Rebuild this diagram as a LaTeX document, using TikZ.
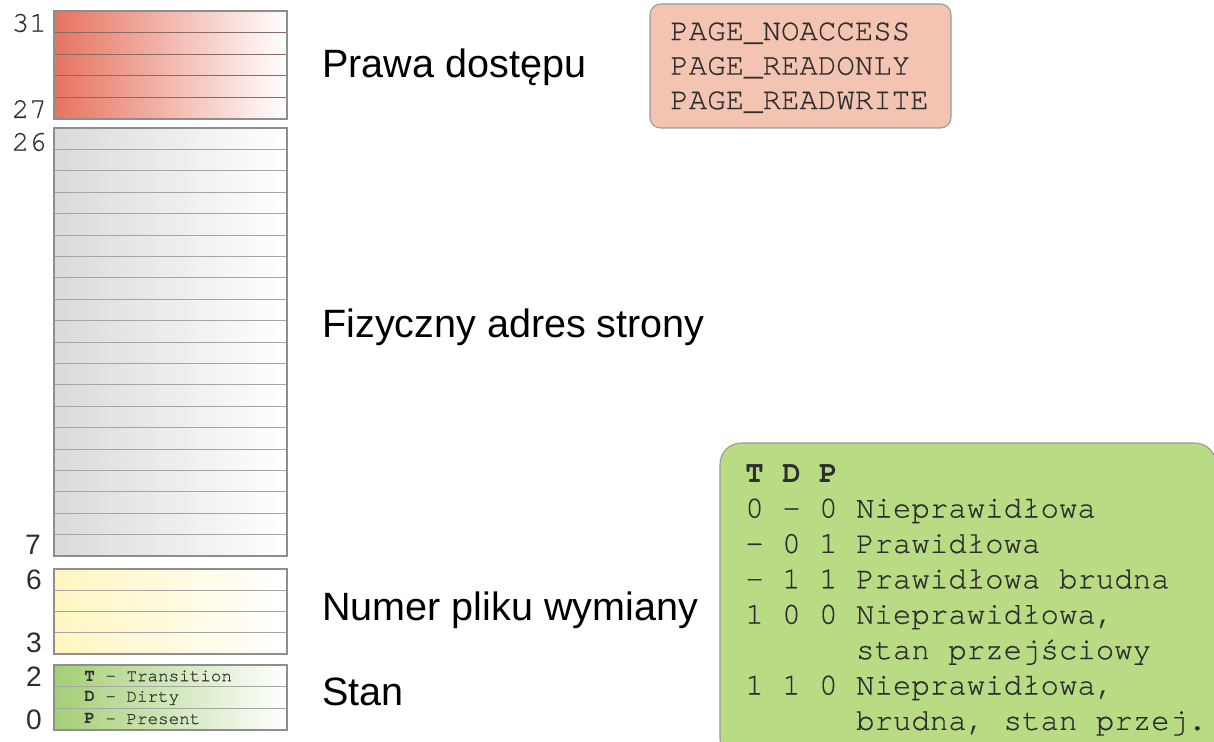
\documentclass[tikz,border=0pt]{standalone}
\usepackage{fontspec}
\setmainfont{Liberation Sans}
\setmonofont{TeX Gyre Cursor}[UprightFeatures={FakeBold=0.5}]
\usetikzlibrary{positioning}

\definecolor{accessred}{HTML}{E6735F}
\definecolor{frameline}{HTML}{8E8E8E}
\definecolor{redline}{HTML}{8A6A62}
\definecolor{addrgray}{HTML}{DADADA}
\definecolor{swapyellow}{HTML}{FFF6C0}
\definecolor{stategreen}{HTML}{A3CE74}
\definecolor{accessbox}{HTML}{F4C4B2}
\definecolor{statebox}{HTML}{B9DB83}
\definecolor{textgray}{HTML}{2E2E2E}

\tikzset{
  bitframe/.style={draw=frameline, line width=0.6pt},
  rowline/.style={draw=frameline!80, line width=0.5pt},
  fieldname/.style={anchor=west, inner sep=0pt, text=black,
    font=\fontsize{22.5}{27}\selectfont},
  bitnum/.style={anchor=east, inner sep=0pt, text=textgray,
    font=\fontsize{16}{19}\selectfont},
  bitnummono/.style={bitnum, font=\ttfamily\fontsize{16.5}{19}\selectfont},
  flagtext/.style={anchor=west, inner sep=0pt, text=textgray,
    font=\ttfamily\fontsize{10}{12}\selectfont},
  infobox/.style={draw=gray!80, line width=0.6pt, rounded corners=6pt},
  boxtext/.style={anchor=west, inner sep=0pt, text=textgray,
    text height=1.4ex, text depth=0.3ex,
    font=\ttfamily\fontsize{17.5}{20}\selectfont}
}

\begin{document}
\begin{tikzpicture}[x=0.02cm, y=-0.02cm]
  \useasboundingbox (0,0) rectangle (1214,742);
  \clip (0,0) rectangle (1214,742);

  % bits 31..27
  \shade[left color=accessred, middle color=accessred!60!white, right color=white]
    (54,11) rectangle (287,119);
  \foreach \r in {1,...,4}
    \draw[rowline, draw=redline] (54,11+\r*21.6) -- (287,11+\r*21.6);
  \draw[bitframe] (54,11) rectangle (287,119);

  % bits 26..7
  \shade[left color=addrgray, right color=white] (54,128) rectangle (287,556);
  \foreach \r in {1,...,19}
    \draw[rowline] (54,128+\r*21.4) -- (287,128+\r*21.4);
  \draw[bitframe] (54,128) rectangle (287,556);

  % bits 6..3
  \shade[left color=swapyellow, right color=white] (54,569) rectangle (287,654);
  \foreach \r in {1,...,3}
    \draw[rowline] (54,569+\r*21.25) -- (287,569+\r*21.25);
  \draw[bitframe] (54,569) rectangle (287,654);

  % bits 2..0
  \shade[left color=stategreen, middle color=stategreen!60!white, right color=white]
    (54,665) rectangle (287,730);
  \foreach \r in {1,2}
    \draw[rowline] (54,665+\r*21.7) -- (287,665+\r*21.7);
  \draw[bitframe] (54,665) rectangle (287,730);
  \node[flagtext] (flagT) at (84,676) {\textbf{T} - Transition};
  \node[flagtext] (flagD) at (84,698) {\textbf{D} - Dirty};
  \node[flagtext] (flagP) at (84,719) {\textbf{P} - Present};

  % bit numbers
  \node[bitnummono] (b31) at (47,23) {31};
  \node[bitnummono] (b27) at (47,109) {27};
  \node[bitnummono] (b26) at (47,142) {26};
  \node[bitnum] (b7) at (41,545) {7};
  \node[bitnum] (b6) at (42,580) {6};
  \node[bitnum] (b3) at (42,643) {3};
  \node[bitnum] (b2) at (42,677) {2};
  \node[bitnum] (b0) at (42,720) {0};

  % field names
  \node[fieldname] (access) at (322,67) {Prawa dostępu};
  \node[fieldname] (frame) at (322,327) {Fizyczny adres strony};
  \node[fieldname] (swap) at (322,610) {Numer pliku wymiany};
  \node[fieldname] (state) at (322,692) {Stan};

  % protection values
  \draw[infobox, fill=accessbox] (650,4) rectangle (951,128);
  \foreach \t [count=\i from 0] in {PAGE\_NOACCESS, PAGE\_READONLY, PAGE\_READWRITE}
    \node[boxtext] (prot\i) at (670,35+\i*34.5) {\t};

  % state table
  \draw[infobox, fill=statebox, rounded corners=12pt] (720,443) rectangle (1216,760);
  \foreach \t [count=\i from 0] in {{\textbf{T D P}},
      {0 - 0 Nieprawidłowa},
      {- 0 1 Prawidłowa},
      {- 1 1 Prawidłowa brudna},
      {1 0 0 Nieprawidłowa,},
      {\phantom{1 0 0 }stan przejściowy},
      {1 1 0 Nieprawidłowa,},
      {\phantom{1 1 0 }brudna, stan przej.}}
    \node[boxtext] (tdp\i) at (745,477+\i*35.4) {\t};
\end{tikzpicture}
\end{document}
